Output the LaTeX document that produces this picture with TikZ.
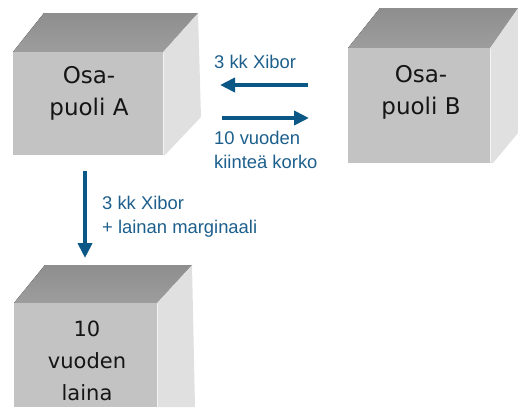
\documentclass[tikz,border=0pt]{standalone}
\usepackage{fontspec}
\setmainfont{Liberation Sans}
\newfontfamily\boxfont{DejaVu Sans}
\usetikzlibrary{arrows.meta}
\definecolor{arrowblue}{HTML}{0B5785}
\definecolor{labelblue}{HTML}{1D5F8C}
\definecolor{frontgray}{HTML}{C3C3C3}
\definecolor{topgray}{HTML}{9D9D9D}
\definecolor{topgraydark}{HTML}{8E8E8E}
\definecolor{sidegray}{HTML}{E0E0E0}
\definecolor{textdark}{HTML}{151515}
\tikzset{
  topface/.style={top color=topgraydark, bottom color=topgray, draw=none},
  sideface/.style={fill=sidegray, draw=none},
  frontface/.style={fill=frontgray, draw=none},
  edgehl/.style={draw=white!80!frontgray, line width=1pt},
  boxtext/.style={text=textdark, align=center, inner sep=0pt},
  bigtext/.style={boxtext, font=\boxfont\fontsize{23}{32}\selectfont},
  smalltext/.style={boxtext, font=\boxfont\fontsize{21}{32}\selectfont},
  flow/.style={draw=arrowblue, line width=4.3pt,
    -{Triangle[width=14pt,length=15pt]}},
  flowlabel/.style={text=labelblue, align=left, inner sep=0pt,
    font=\fontsize{18.4}{24}\selectfont, anchor=north west}
}
\begin{document}
\begin{tikzpicture}[x=1pt,y=-1pt]
\useasboundingbox (0,0) rectangle (518,407);
% Box A
\fill[topface] (13,52) -- (44,13) -- (198,13) -- (163,52) -- cycle;
\fill[sideface] (163,52) -- (198,13) -- (201,117) -- (165,155) -- (163,155) -- cycle;
\fill[frontface] (13,52) rectangle (163,155);
\draw[edgehl] (163.5,53) -- (163.5,154);
\node[bigtext] (A) at (89,93) {Osa-\\puoli A};
% Box B
\fill[topface] (348,48) -- (380,8) -- (518,8) -- (490,48) -- cycle;
\fill[sideface] (490,48) -- (518,8) -- (518,133) -- (493,163) -- (490,163) -- cycle;
\fill[frontface] (348,48) rectangle (490,163);
\draw[edgehl] (490.5,49) -- (490.5,162);
\node[bigtext] (B) at (421,92) {Osa-\\puoli B};
% Box C
\fill[topface] (14,303) -- (45,265) -- (192,265) -- (157,303) -- cycle;
\fill[sideface] (157,303) -- (192,265) -- (195,407) -- (157,407) -- cycle;
\fill[frontface] (14,303) rectangle (157,407);
\draw[edgehl] (157.5,304) -- (157.5,407);
\node[smalltext] (C) at (87,361) {10\\vuoden\\laina};
% connectors
\coordinate (BAstart) at (308,85);
\coordinate (BAend) at (220,85);
\coordinate (ABstart) at (222,118);
\coordinate (ABend) at (309,118);
\coordinate (ACstart) at (85,171);
\coordinate (ACend) at (85,258);
\draw[flow] (BAstart) -- (BAend);
\draw[flow] (ABstart) -- (ABend);
\draw[flow] (ACstart) -- (ACend);
% labels
\node[flowlabel] (l1) at (214,55) {3 kk Xibor};
\node[flowlabel] (l2) at (214,131) {10 vuoden\\kiinteä korko};
\node[flowlabel] (l3) at (102,196) {3 kk Xibor\\+ lainan marginaali};
\end{tikzpicture}
\end{document}
